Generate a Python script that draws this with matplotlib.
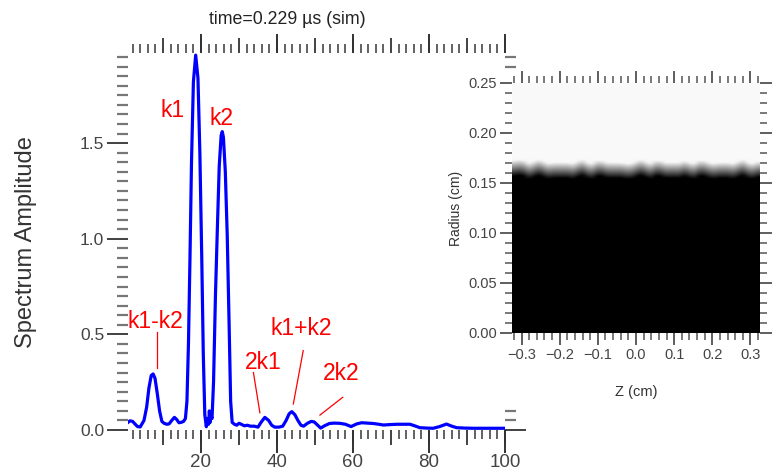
import matplotlib
matplotlib.use("Agg")
import matplotlib.pyplot as plt
import numpy as np
from matplotlib.ticker import MultipleLocator, FixedLocator, NullFormatter, FormatStrFormatter, FuncFormatter
from matplotlib.patches import Rectangle

plt.rcParams['font.family'] = ['Liberation Sans', 'DejaVu Sans']

# spectrum (wavenumber, amplitude)
k_vals = [0.8, 1.3, 2.0, 2.7, 3.3, 4.0, 5.0, 5.7, 6.3, 6.9, 7.4, 7.9, 8.5, 9.1, 9.7,
          10.3, 11.0, 11.6, 12.3, 13.0, 13.6, 14.2, 14.8, 15.4, 15.9, 16.3, 16.7,
          17.1, 17.5, 18.0, 18.6, 19.2, 19.7, 20.2, 20.6, 21.0, 21.4, 21.7, 22.0,
          22.2, 22.4, 22.6, 22.9, 23.3, 23.8, 24.3, 24.8, 25.3, 25.6, 25.9, 26.4,
          26.9, 27.4, 27.8, 28.2, 28.8, 29.4, 30.0, 30.6, 31.4, 32.2, 33.0, 34.0,
          35.0, 35.8, 36.8, 37.8, 38.6, 39.4, 40.5, 41.5, 42.4, 43.2, 43.9, 44.7,
          45.5, 46.3, 47.0, 48.0, 49.0, 49.8, 50.7, 51.5, 52.5, 53.8, 55.0, 56.5,
          58.0, 59.5, 61.0, 62.3, 63.8, 65.3, 66.8, 68.0, 69.5, 71.5, 73.5, 75.0,
          76.5, 77.6, 79.5, 81.1, 82.8, 84.6, 86.0, 87.3, 89.5, 91.7, 95.0, 99.6]
amp_vals = [0.040, 0.048, 0.045, 0.030, 0.018, 0.016, 0.050, 0.120, 0.220, 0.285, 0.293,
            0.270, 0.190, 0.100, 0.045, 0.035, 0.030, 0.032, 0.050, 0.066, 0.055,
            0.038, 0.040, 0.045, 0.060, 0.150, 0.450, 0.900, 1.400, 1.820, 1.960,
            1.840, 1.450, 0.900, 0.400, 0.080, 0.017, 0.060, 0.030, 0.100, 0.040,
            0.080, 0.060, 0.250, 0.700, 1.050, 1.380, 1.540, 1.560, 1.530, 1.350,
            1.020, 0.550, 0.150, 0.040, 0.030, 0.025, 0.035, 0.030, 0.022, 0.025,
            0.020, 0.020, 0.015, 0.040, 0.066, 0.050, 0.025, 0.015, 0.015, 0.020,
            0.050, 0.085, 0.096, 0.080, 0.050, 0.025, 0.020, 0.035, 0.045, 0.042,
            0.025, 0.010, 0.022, 0.034, 0.036, 0.035, 0.030, 0.018, 0.032, 0.038,
            0.036, 0.034, 0.030, 0.026, 0.028, 0.030, 0.030, 0.030, 0.020, 0.012,
            0.010, 0.009, 0.018, 0.031, 0.020, 0.012, 0.010, 0.009, 0.009, 0.009]

# peak labels: text, text position, line start, line end (data coords)
peak_names = ["k1", "k2", "k1-k2", "2k1", "k1+k2", "2k2"]
peak_text_xy = [(12.6, 1.67), (25.3, 1.63), (7.9, 0.565), (36.3, 0.355), (46.5, 0.532), (57.0, 0.296)]
peak_line_from = [None, None, (8.34, 0.512), (33.8, 0.30), (46.9, 0.415), (57.3, 0.171)]
peak_line_to = [None, None, (8.34, 0.324), (35.5, 0.09), (44.3, 0.136), (51.3, 0.078)]

# boundary radius (cm) of the dark region along Z
z_edges = (-0.325, 0.325)
boundary_r = [0.170, 0.171, 0.170, 0.167, 0.169, 0.171, 0.169, 0.167, 0.168, 0.168,
              0.168, 0.168, 0.167, 0.169, 0.171, 0.168, 0.167, 0.170, 0.170, 0.168,
              0.168, 0.168, 0.168, 0.167, 0.167, 0.169, 0.171, 0.169, 0.167, 0.170,
              0.170, 0.168, 0.168, 0.168, 0.168, 0.170, 0.168, 0.167, 0.170, 0.170,
              0.168, 0.167, 0.168, 0.168, 0.168, 0.167, 0.169, 0.171, 0.168, 0.167, 0.169]

fig = plt.figure(figsize=(7.74, 4.72), dpi=100)
W, H = 774, 472
PT = 0.72  # points per pixel at 100 dpi


def fig_box(x0, y0, x1, y1):
    return [x0 / W, 1 - y1 / H, (x1 - x0) / W, (y1 - y0) / H]


# ---- left: spectrum ----
ax = fig.add_axes(fig_box(128, 53, 505, 430), zorder=0)
ax.plot(k_vals, amp_vals, color=(0, 0, 1), lw=2.3, solid_joinstyle='round')
ax.set_xlim(0.79, 100)
ax.set_ylim(0, 1.971)
for s in ax.spines.values():
    s.set_visible(False)

ax.xaxis.set_major_locator(MultipleLocator(10))
ax.xaxis.set_minor_locator(MultipleLocator(2))
ax.xaxis.set_major_formatter(NullFormatter())
ax.yaxis.set_major_locator(MultipleLocator(0.5))
ax.yaxis.set_minor_locator(MultipleLocator(0.05))
ax.yaxis.set_major_formatter(FormatStrFormatter('%.1f'))
ax.tick_params(axis='x', which='major', direction='out', length=15 * PT, width=1.3,
               color='#333333', top=True, bottom=True)
ax.tick_params(axis='x', which='minor', direction='out', length=9 * PT, width=1.3,
               color='#555555', top=True, bottom=True)
ax.tick_params(axis='y', which='major', direction='out', length=21 * PT, width=1.3,
               color='#333333', left=True, right=True, labelsize=12.5,
               labelcolor='#444444', pad=2)
ax.tick_params(axis='y', which='minor', direction='out', length=11 * PT, width=1.6,
               color='#777777', left=True, right=True)

for loc in ('bottom', 'top'):
    sec = ax.secondary_xaxis(loc)
    sec.xaxis.set_major_locator(FixedLocator([20, 40, 60, 80, 100]))
    for s in sec.spines.values():
        s.set_visible(False)
    sec.tick_params(length=23 * PT, width=1.4, color='#333333', labelsize=13.5,
                    labelcolor='#444444', pad=1)
    if loc == 'top':
        sec.tick_params(labeltop=False, length=19 * PT)

for name, txy, p0, p1 in zip(peak_names, peak_text_xy, peak_line_from, peak_line_to):
    ax.text(txy[0], txy[1], name, color='red', fontsize=16.5, ha='center', va='center')
    if p0 is not None:
        ax.plot([p0[0], p1[0]], [p0[1], p1[1]], color='red', lw=0.9)

fig.text(287 / W, 1 - 19 / H, "time=0.229 µs (sim)", fontsize=12.8, color='#222222',
         ha='center', va='center')
fig.text(26 / W, 1 - 242 / H, "Spectrum Amplitude", fontsize=17, color='#333333',
         rotation=90, ha='center', va='center')

# white panel behind the image plot, hides part of the spectrum axes
fig.add_artist(Rectangle((435 / W, 1 - 405 / H), (W - 435) / W, (405 - 70) / H,
                         transform=fig.transFigure, facecolor='white',
                         edgecolor='none', zorder=0.5))

# ---- right: radius vs Z image ----
ax2 = fig.add_axes(fig_box(512, 83, 760, 333), zorder=1)
r_grid = np.linspace(0, 0.25, 251)
bnd = np.array(boundary_r)
img = np.clip((r_grid[:, None] - (bnd[None, :] - 0.013)) / 0.016, 0, 1) * 0.975
ax2.imshow(img, cmap='gray', vmin=0, vmax=1, origin='lower', aspect='auto',
           extent=[z_edges[0], z_edges[1], 0, 0.25], interpolation='bicubic')
ax2.set_xlim(z_edges)
ax2.set_ylim(0, 0.25)
for s in ax2.spines.values():
    s.set_visible(False)
ax2.xaxis.set_major_locator(MultipleLocator(0.1))
ax2.xaxis.set_minor_locator(MultipleLocator(0.02))
ax2.yaxis.set_major_locator(MultipleLocator(0.05))
ax2.yaxis.set_minor_locator(MultipleLocator(0.01))
ax2.xaxis.set_major_formatter(FuncFormatter(lambda v, p: f"{v:.1f}".replace("-", "\u2212")
                                            if abs(v) > 1e-9 else "0.0"))
ax2.yaxis.set_major_formatter(FormatStrFormatter('%.2f'))
ax2.tick_params(which='major', direction='out', length=12 * PT, width=1.1, color='#333333',
                top=True, right=True, labelsize=10.5, labelcolor='#444444', pad=2)
ax2.tick_params(which='minor', direction='out', length=7 * PT, width=1.1, color='#555555',
                top=True, right=True)
ax2.set_xlabel("Z (cm)", fontsize=10.5, color='#333333', labelpad=17)
ax2.set_ylabel("Radius (cm)", fontsize=10, color='#333333', labelpad=4)

fig.savefig("out.png", dpi=100, facecolor='white')
